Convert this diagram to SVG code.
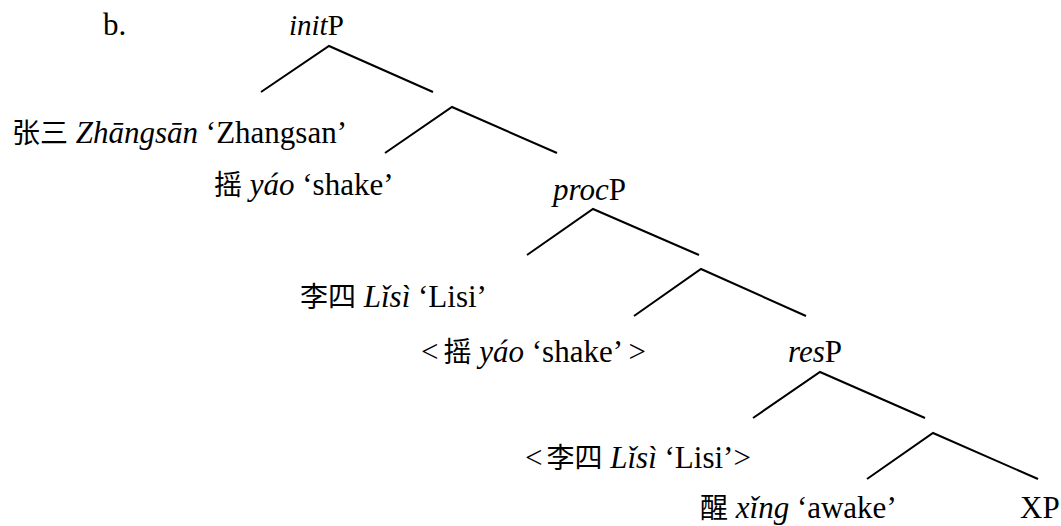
<svg xmlns="http://www.w3.org/2000/svg" width="1061" height="526" viewBox="0 0 1061 526">
<style>
text{font-family:"Liberation Serif","Noto Sans CJK SC",serif;font-size:31px;fill:#000}
.i{font-style:italic}
.c{font-family:"Noto Sans CJK SC","Noto Sans CJK TC",sans-serif;font-size:28px}
.e{stroke:#000;stroke-width:2;fill:none}
</style>
<rect width="1061" height="526" fill="#fff"/>
<g id="label-b"><text x="103" y="35">b.</text></g>
<g id="initP"><text x="289" y="35" style="font-size:29px"><tspan class="i">init</tspan>P</text></g>
<g id="zhangsan"><text x="12" y="143"><tspan class="c">张三</tspan> <tspan class="i">Zhāngsān</tspan> ‘Zhangsan’</text></g>
<g id="yao"><text x="214" y="195"><tspan class="c">摇</tspan> <tspan class="i">yáo</tspan> ‘shake’</text></g>
<g id="procP"><text x="553" y="200"><tspan class="i">proc</tspan>P</text></g>
<g id="lisi"><text x="300" y="307"><tspan class="c">李四</tspan> <tspan class="i">Lǐsì</tspan> ‘Lisi’</text></g>
<g id="yao-trace"><text x="421" y="362">&lt;<tspan class="c" dx="5">摇</tspan> <tspan class="i">yáo</tspan> ‘shake’ &gt;</text></g>
<g id="resP"><text x="788" y="362"><tspan class="i">res</tspan>P</text></g>
<g id="lisi-trace"><text x="525" y="468">&lt;<tspan class="c" dx="4">李四</tspan> <tspan class="i">Lǐsì</tspan> ‘Lisi’&gt;</text></g>
<g id="xing"><text x="700" y="518"><tspan class="c">醒</tspan> <tspan class="i">xǐng</tspan> ‘awake’</text></g>
<g id="XP"><text x="1020" y="518">XP</text></g>
<g id="connectors" class="e">
<polyline points="261,92 329,46 433,92"/>
<polyline points="385,153 452,107 557,153"/>
<polyline points="527,255 593,209 699,255"/>
<polyline points="634,316 701,269 806,316"/>
<polyline points="753,418 820,372 925,418"/>
<polyline points="867,479 933,433 1038,479"/>
</g>
</svg>
